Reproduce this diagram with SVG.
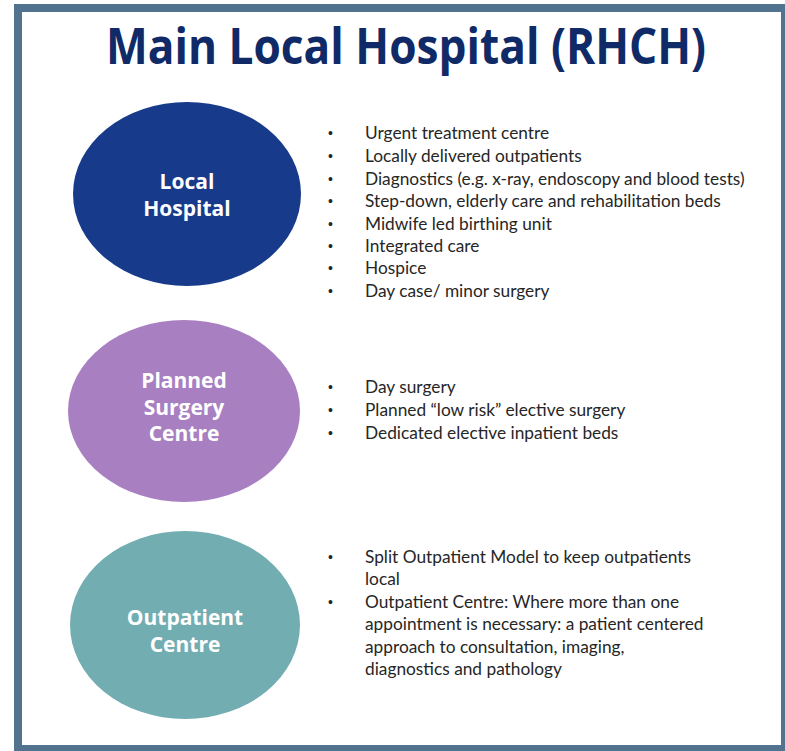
<svg xmlns="http://www.w3.org/2000/svg" width="785" height="751" viewBox="0 0 785 751">
<style>
.title{font-family:"Open Sans","Liberation Sans",sans-serif;font-weight:700;font-size:50px;fill:#0f2a66}
.lbl{font-family:"Open Sans","Liberation Sans",sans-serif;font-weight:700;font-size:21px;fill:#ffffff;text-anchor:middle}
.item{font-family:"Lato","Open Sans",sans-serif;font-size:17.3px;fill:#262626}
.dot{font-family:"Liberation Sans",sans-serif;font-size:14px;fill:#262626}
</style>
<rect x="0" y="0" width="785" height="751" fill="#ffffff"/>
<rect x="18" y="8" width="767" height="741" fill="none" stroke="#52738f" stroke-width="8"/>
<text class="title" x="406" y="64" text-anchor="middle" textLength="600" lengthAdjust="spacingAndGlyphs">Main Local Hospital (RHCH)</text>

<g id="local-hospital">
<ellipse cx="187" cy="194" rx="114" ry="92" fill="#173a8a"/>
<text class="lbl" x="187" y="189">Local</text>
<text class="lbl" x="187" y="216">Hospital</text>
</g>
<g id="planned-surgery">
<ellipse cx="184" cy="411" rx="116" ry="91" fill="#a87fc1"/>
<text class="lbl" x="184" y="388">Planned</text>
<text class="lbl" x="184" y="415">Surgery</text>
<text class="lbl" x="184" y="441">Centre</text>
</g>
<g id="outpatient-centre">
<ellipse cx="185" cy="625" rx="115" ry="94" fill="#72adb1"/>
<text class="lbl" x="185" y="625">Outpatient</text>
<text class="lbl" x="185" y="652">Centre</text>
</g>

<g id="list-local">
<text class="dot" x="328" y="138">•</text><text class="item" x="365" y="139">Urgent treatment centre</text>
<text class="dot" x="328" y="161">•</text><text class="item" x="365" y="162">Locally delivered outpatients</text>
<text class="dot" x="328" y="184">•</text><text class="item" x="365" y="185">Diagnostics (e.g. x-ray, endoscopy and blood tests)</text>
<text class="dot" x="328" y="206">•</text><text class="item" x="365" y="207">Step-down, elderly care and rehabilitation beds</text>
<text class="dot" x="328" y="229">•</text><text class="item" x="365" y="230">Midwife led birthing unit</text>
<text class="dot" x="328" y="251">•</text><text class="item" x="365" y="252">Integrated care</text>
<text class="dot" x="328" y="273">•</text><text class="item" x="365" y="274">Hospice</text>
<text class="dot" x="328" y="296">•</text><text class="item" x="365" y="297">Day case/ minor surgery</text>
</g>
<g id="list-planned">
<text class="dot" x="328" y="392">•</text><text class="item" x="365" y="393">Day surgery</text>
<text class="dot" x="328" y="415">•</text><text class="item" x="365" y="416">Planned “low risk” elective surgery</text>
<text class="dot" x="328" y="438">•</text><text class="item" x="365" y="439">Dedicated elective inpatient beds</text>
</g>
<g id="list-outpatient">
<text class="dot" x="328" y="562">•</text><text class="item" x="365" y="563">Split Outpatient Model to keep outpatients</text>
<text class="item" x="365" y="585">local</text>
<text class="dot" x="328" y="607">•</text><text class="item" x="365" y="608">Outpatient Centre: Where more than one</text>
<text class="item" x="365" y="630">appointment is necessary: a patient centered</text>
<text class="item" x="365" y="653">approach to consultation, imaging,</text>
<text class="item" x="365" y="675">diagnostics and pathology</text>
</g>
</svg>
